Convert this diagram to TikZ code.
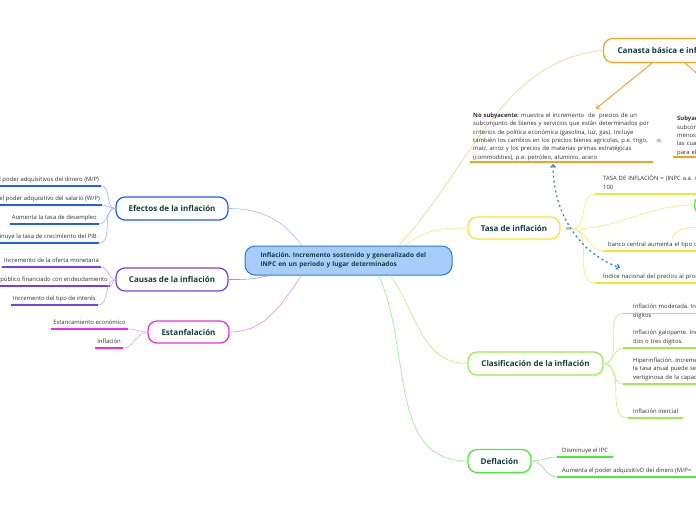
\documentclass[tikz,border=0pt]{standalone}
\usepackage{fontspec}
\setmainfont{Open Sans}
\usetikzlibrary{arrows.meta}
\definecolor{titletext}{HTML}{12403C}
\definecolor{leaftext}{HTML}{333333}
\definecolor{mainfill}{HTML}{A9CDFB}
\definecolor{mainline}{HTML}{2A78D8}
\definecolor{efblue}{HTML}{1D5CFF}
\definecolor{capurple}{HTML}{7A3CF0}
\definecolor{esmagenta}{HTML}{F028F0}
\definecolor{tayellow}{HTML}{F0E830}
\definecolor{clgreen}{HTML}{99EE4A}
\definecolor{degreen}{HTML}{44EE33}
\definecolor{caorange}{HTML}{F7A11A}
\definecolor{dashblue}{HTML}{2B8AE8}
\frenchspacing
\tikzset{central/.style = {draw=mainline, fill=mainfill, line width=1pt, rounded corners=10pt,
                           minimum width=207pt, minimum height=29pt, text width=176pt, align=left,
                           inner xsep=0pt, font=\bfseries\fontsize{6.5}{9}\selectfont, text=titletext}}
\tikzset{topic/.style = {rounded corners=9pt, line width=1.2pt, fill=white, minimum height=23pt,
                         inner xsep=0pt, font=\bfseries\fontsize{8}{9}\selectfont, text=titletext}}
\tikzset{leaf/.style = {inner xsep=2pt, inner ysep=2pt, font=\fontsize{5.9}{8.4}\selectfont,
                        text=leaftext, execute at end node=\strut}}
\tikzset{menu/.style = {inner sep=1pt, font=\fontsize{6}{6}\selectfont, text=leaftext}}
\tikzset{uline/.style = {draw=#1, line width=1.4pt}}
\tikzset{branch/.style = {draw=#1, line width=0.6pt}}
\tikzset{pointer/.style = {draw=caorange, line width=0.9pt, -{Straight Barb[length=3pt, width=5pt]}}}
\tikzset{dashlink/.style = {draw=dashblue, line width=1.3pt, dash pattern=on 2pt off 3pt,
                            {Straight Barb[length=2.5pt, width=5pt]}-{Straight Barb[length=2.5pt, width=5pt]}}}

\begin{document}
\begin{tikzpicture}[x=1pt, y=1pt]
  \useasboundingbox [fill=white] (0, 0) rectangle (696, -520);

  % central idea
  \node [central] (main) at (348.5, -260.5) {Inflación. Incremento sostenido y generalizado del\\INPC en un periodo y lugar determinados};

  % main topics
  \node [topic, draw=efblue, minimum width=112pt] (efectos) at (172, -208.5) {Efectos de la inflación};
  \node [topic, draw=capurple, minimum width=112pt] (causas) at (172, -279.5) {Causas de la inflación};
  \node [topic, draw=esmagenta, minimum width=81pt, minimum height=22pt] (estan) at (188.5, -332) {Estanfalación};
  \node [topic, draw=tayellow, minimum width=92pt, minimum height=22pt] (tasa) at (514, -228) {Tasa de inflación};
  \node [topic, draw=clgreen, minimum width=135pt] (clasif) at (535.5, -363.5) {Clasificación de la inflación};
  \node [topic, draw=degreen, minimum width=63pt] (defl) at (499.5, -461) {Deflación};
  \node [topic, draw=caorange, anchor=west, minimum height=24pt, inner xsep=14pt] (canasta) at (603, -50.5) {Canasta básica e inflación};
  \node [topic, draw=degreen, anchor=west, minimum width=60pt, minimum height=20pt] (tgreen) at (694, -205) {};

  \node [menu] (tasamenu) at (568, -229) {$\equiv$};
  \node [menu] (nsmenu) at (659, -141) {$\equiv$};

  % links from the central idea
  \draw [branch=efblue!40] (efectos.east) to [out=0, in=125] ([xshift=-47pt]main.north);
  \draw [branch=capurple!60] (causas.east) to [out=0, in=195] ([xshift=-80pt]main.south);
  \draw [branch=esmagenta!55] (estan.east) to [out=0, in=235] ([xshift=-47pt]main.south);
  \draw [branch=degreen!60] ([xshift=30pt]main.south) to [out=-65, in=180] (defl.west);
  \draw [branch=clgreen!70] ([xshift=42pt]main.south) to [out=-55, in=180] (clasif.west);
  \draw [branch=tayellow!70] ([xshift=57pt]main.north) to [out=40, in=180] (tasa.west);
  \draw [branch=caorange!50] ([xshift=50pt]main.north) .. controls +(71.5, 76) and +(-103, -9.5) .. (canasta.west);

  % efectos
  \node [leaf, anchor=south east] (e1) at (101, -186) {Disminuye el poder adquisitivos del dinero (M/P)};
  \node [leaf, anchor=south east] (e2) at (102, -205) {Disminuye el poder adquisitivo del salario (W/P)};
  \node [leaf, anchor=south east] (e3) at (99, -224) {Aumenta la tasa de desempleo};
  \node [leaf, anchor=south east] (e4) at (99, -243) {Disminuye la tasa de crecimiento del PIB};
  \foreach \n in {e1, e2, e3, e4} {
    \draw [uline=efblue] (\n.south west) -- (\n.south east);
    \draw [branch=efblue!45] (efectos.west) to [out=180, in=0] (\n.south east);
  }

  % causas
  \node [leaf, anchor=south east] (c1) at (101, -267) {Incremento de la oferta monetaria};
  \node [leaf, anchor=south east] (c2) at (110, -286) {Gasto público financiado con endeudamiento};
  \node [leaf, anchor=south east] (c3) at (98, -305) {Incremento del tipo de interés};
  \foreach \n in {c1, c2, c3} {
    \draw [uline=capurple] (\n.south west) -- (\n.south east);
    \draw [branch=capurple!45] (causas.west) to [out=180, in=0] (\n.south east);
  }

  % estanfalacion
  \node [leaf, anchor=south east] (s1) at (128, -329) {Estancamiento económico};
  \node [leaf, anchor=south east] (s2) at (123, -348) {Inflación};
  \foreach \n in {s1, s2} {
    \draw [uline=esmagenta] (\n.south west) -- (\n.south east);
    \draw [branch=esmagenta!45] (estan.west) to [out=180, in=0] (\n.south east);
  }

  % tasa de inflacion
  \node [leaf, align=left, text width=170pt, inner xsep=8pt, anchor=south west] (t1) at (595, -194) {TASA DE INFLACIÓN = (INPC a.a. / INPC a.a.-1 - 1) x\\100};
  \node [leaf, align=left, text width=140pt, inner xsep=5pt, anchor=south west] (t3) at (603, -251) {banco central aumenta el tipo de interés};
  \node [leaf, align=left, text width=150pt, inner xsep=8pt, anchor=south west] (t4) at (595, -283) {Índice nacional del precios al productor};
  \coordinate (tfork) at (672, -239);
  \coordinate (tout) at (712, -228);
  \foreach \n in {t1, t3, t4} {
    \draw [uline=tayellow] (\n.south west) -- (\n.south east);
    \draw [branch=tayellow!70] (tasamenu.east) to [out=0, in=180] (\n.south west);
  }
  \draw [branch=tayellow!70] (tasamenu.east) to [out=0, in=180] (tgreen.west);
  \draw [branch=tayellow!70] (tfork) to [out=70, in=180] (tout);

  % canasta basica
  \node [leaf, align=left, text width=177pt, inner xsep=3pt, inner ysep=0pt, anchor=south west] (ns) at (470, -162)
    {\textbf{No subyacente:} muestra el incremento\ \ de\ \ precios de un\\
     subconjunto de bienes y servicios que están determinados por\\
     criterios de política económica (gasolina, luz, gas). Incluye\\
     también los cambios en los precios bienes agrícolas, p.e. trigo,\\
     maíz, arroz y los precios de materias primas estratégicas\\
     (commodities), p.e. petróleo, aluminio, acero};
  \node [leaf, align=left, text width=220pt, inner xsep=4pt, inner ysep=0pt, anchor=south west] (sy) at (673, -157)
    {\textbf{Subyacente:} muestra el incremento de precios de un\\
     subconjunto de bienes y servicios cuyos precios son\\
     menos volátiles, como mercancías y servicios,\\
     las cuales reflejan mejor la tendencia de la inflación\\
     para el mediano plazo};
  \draw [uline=caorange] (ns.south west) -- (ns.south east);
  \draw [uline=caorange] (sy.south west) -- (sy.south east);
  \draw [pointer] ([xshift=49pt]canasta.south west) -- ([xshift=126pt, yshift=4pt]ns.north west);
  \draw [pointer] ([xshift=82pt]canasta.south west) -- ([xshift=68pt, yshift=4pt]sy.north west);
  \draw [dashlink] ([xshift=83pt, yshift=-2pt]ns.south west) .. controls +(0, -55) and +(-35, 12) .. ([xshift=25pt, yshift=2.5pt]t4.north west);

  % clasificacion
  \node [leaf, align=left, text width=200pt, inner xsep=10pt, anchor=south west] (k1) at (623, -322) {Inflación moderada. Incremento de precios a tasas de un\\dígitos};
  \node [leaf, align=left, text width=200pt, inner xsep=10pt, anchor=south west] (k2) at (623, -348) {Inflación galopante. Incremento de precios a tasas de\\dos o tres dígitos.};
  \node [leaf, align=left, text width=220pt, inner xsep=10pt, anchor=south west] (k3) at (623, -384) {Hiperinflación. Incremento de precios en el que\\la tasa anual puede ser de tres dígitos o más, con pérdida\\vertiginosa de la capacidad adquisitiva del dinero};
  \node [leaf, inner xsep=5pt, anchor=south west] (k4) at (628, -418) {Inflación inercial};
  \draw [uline=clgreen] ([yshift=8.4pt]k1.south west) -- ([yshift=8.4pt]k1.south east);
  \draw [branch=clgreen!70] (clasif.east) to [out=0, in=180] ([yshift=8.4pt]k1.south west);
  \foreach \n in {k2, k3, k4} {
    \draw [uline=clgreen] (\n.south west) -- (\n.south east);
    \draw [branch=clgreen!70] (clasif.east) to [out=0, in=180] (\n.south west);
  }

  % deflacion
  \node [leaf, inner xsep=5pt, anchor=south west] (d1) at (557, -457) {Disminuye el IPC};
  \node [leaf, inner xsep=5pt, anchor=south west] (d2) at (557, -477) {Aumenta el poder adquisitivO del dinero (M/P=};
  \foreach \n in {d1, d2} {
    \draw [uline=degreen] (\n.south west) -- (\n.south east);
    \draw [branch=degreen!60] (defl.east) to [out=0, in=180] (\n.south west);
  }
\end{tikzpicture}
\end{document}
